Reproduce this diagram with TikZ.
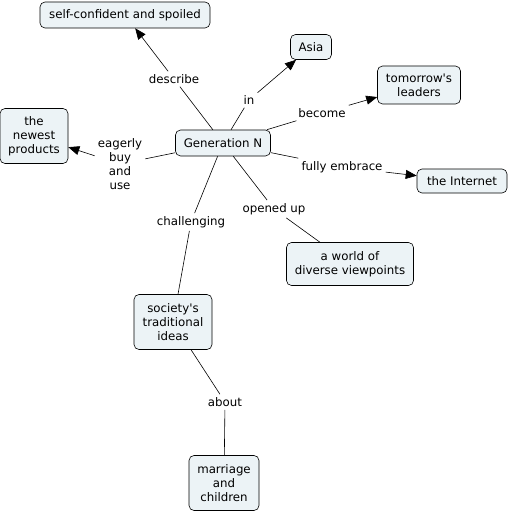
\documentclass[tikz,border=0pt]{standalone}
\usepackage{fontspec}
\setmainfont{DejaVu Sans}
\usetikzlibrary{arrows.meta}
\definecolor{conceptfill}{RGB}{236,243,246}
\begin{document}
\begin{tikzpicture}[x=1pt, y=-1pt,
	every node/.style={font=\fontsize{11.8}{14}\selectfont, align=center},
	concept/.style={draw, rounded corners=5pt, fill=conceptfill, line width=0.6pt, inner sep=2pt},
	linkword/.style={inner sep=3pt},
	link/.style={line width=0.6pt},
	arrowlink/.style={link, -{Triangle[length=11pt,width=9pt]}}]
	\useasboundingbox (0,0) rectangle (509,513);
	\node[concept, minimum width=170pt, minimum height=26pt] (spoiled) at (125,15) {self-confident and spoiled};
	\node[concept, minimum width=41pt, minimum height=25pt] (asia) at (311,47) {Asia};
	\node[concept, minimum width=83pt, minimum height=38pt] (leaders) at (419,85) {tomorrow\textquotesingle s\\leaders};
	\node[concept, minimum width=68pt, minimum height=55pt] (products) at (34,136) {the\\newest\\products};
	\node[concept, minimum width=95pt, minimum height=26pt] (gen) at (223,143) {Generation N};
	\node[concept, minimum width=90pt, minimum height=24pt] (internet) at (462,181) {the Internet};
	\node[concept, minimum width=127pt, minimum height=43pt] (world) at (350,264) {a world of\\diverse viewpoints};
	\node[concept, minimum width=78pt, minimum height=55pt] (society) at (173,322) {society\textquotesingle s\\traditional\\ideas};
	\node[concept, minimum width=70pt, minimum height=55pt] (marriage) at (224,483) {marriage\\and\\children};
	\node[linkword] (describe) at (174,79) {describe};
	\node[linkword] (in) at (249,100) {in};
	\node[linkword] (become) at (322,113) {become};
	\node[linkword] (buy) at (120,164) {eagerly\\buy\\and\\use};
	\node[linkword] (embrace) at (342,167) {fully embrace};
	\node[linkword] (opened) at (274,209) {opened up};
	\node[linkword] (challenging) at (191,222) {challenging};
	\node[linkword] (about) at (225,402) {about};
	\draw[link] (gen) -- (describe);
	\draw[arrowlink] (describe) -- (spoiled);
	\draw[link] (gen) -- (in);
	\draw[arrowlink] (in) -- (asia);
	\draw[link] (gen) -- (become);
	\draw[arrowlink] (become) -- (leaders);
	\draw[link] (gen) -- (buy);
	\draw[arrowlink] (buy) -- (products);
	\draw[link] (gen) -- (embrace);
	\draw[arrowlink] (embrace) -- (internet);
	\draw[link] (gen) -- (opened);
	\draw[link] (opened) -- (world);
	\draw[link] (gen) -- (challenging);
	\draw[link] (challenging) -- (society);
	\draw[link] (society) -- (about);
	\draw[link] (about) -- (marriage);
\end{tikzpicture}
\end{document}
